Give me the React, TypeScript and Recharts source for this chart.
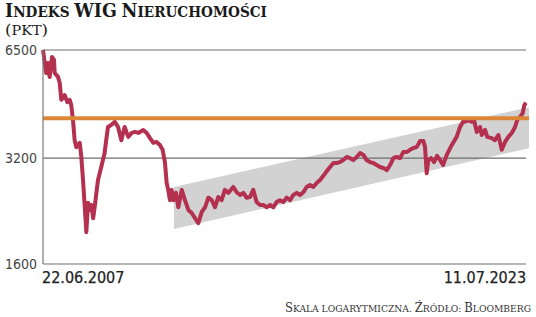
import React from 'react';
import { ComposedChart, Line, Area, XAxis, YAxis, ReferenceLine } from 'recharts';

const dates = [
  '2007-06-22', '2007-07-30', '2007-08-21', '2007-09-11', '2007-10-09', '2007-11-03', '2007-11-11', '2007-12-21',
  '2008-01-11', '2008-01-30', '2008-03-11', '2008-04-12', '2008-05-11', '2008-05-30', '2008-06-20', '2008-07-10',
  '2008-07-30', '2008-09-10', '2008-09-29', '2008-10-20', '2008-11-10', '2008-11-29', '2008-12-20', '2009-01-10',
  '2009-01-29', '2009-02-20', '2009-03-10', '2009-04-19', '2009-05-29', '2009-07-09', '2009-07-28', '2009-08-19',
  '2009-09-28', '2009-11-09', '2009-12-19', '2010-01-28', '2010-03-09', '2010-04-22', '2010-06-02', '2010-07-12',
  '2010-08-21', '2010-10-21', '2010-12-02', '2011-01-11', '2011-02-20', '2011-04-01', '2011-05-11', '2011-06-13',
  '2011-07-11', '2011-08-01', '2011-08-20', '2011-09-10', '2011-10-01', '2011-10-20', '2011-11-22', '2011-12-20',
  '2012-01-31', '2012-03-10', '2012-04-20', '2012-05-31', '2012-07-10', '2012-08-19', '2012-09-30', '2012-11-09',
  '2012-12-19', '2013-01-30', '2013-03-09', '2013-04-18', '2013-05-29', '2013-07-08', '2013-08-18', '2013-10-18',
  '2013-11-28', '2014-01-08', '2014-02-17', '2014-03-28', '2014-05-08', '2014-06-17', '2014-07-28', '2014-09-07',
  '2014-10-17', '2014-11-28', '2015-01-07', '2015-02-16', '2015-03-27', '2015-05-07', '2015-06-16', '2015-07-27',
  '2015-09-06', '2015-10-16', '2015-11-27', '2016-01-06', '2016-02-15', '2016-03-26', '2016-05-06', '2016-06-15',
  '2016-07-26', '2016-09-05', '2016-10-15', '2016-11-25', '2017-01-05', '2017-02-14', '2017-03-25', '2017-05-04',
  '2017-06-14', '2017-07-25', '2017-09-04', '2017-10-14', '2017-11-24', '2018-01-04', '2018-02-13', '2018-03-24',
  '2018-05-03', '2018-06-13', '2018-07-24', '2018-09-03', '2018-10-13', '2018-11-24', '2019-01-03', '2019-02-12',
  '2019-03-23', '2019-05-02', '2019-06-12', '2019-07-23', '2019-09-02', '2019-10-12', '2019-11-22', '2020-01-02',
  '2020-02-11', '2020-03-02', '2020-03-22', '2020-04-11', '2020-05-14', '2020-06-20', '2020-07-26', '2020-09-01',
  '2020-10-07', '2020-11-21', '2021-01-21', '2021-03-21', '2021-05-01', '2021-06-06', '2021-06-30', '2021-08-09',
  '2021-09-20', '2021-10-18', '2021-11-20', '2021-12-30', '2022-01-20', '2022-03-01', '2022-03-27', '2022-05-20',
  '2022-06-29', '2022-08-09', '2022-09-19', '2022-10-29', '2022-12-09', '2023-01-19', '2023-02-28', '2023-03-26',
  '2023-04-28', '2023-06-01', '2023-06-20', '2023-07-11',
];

const values = [
  6500, 5590, 5970, 5450, 6210, 6090, 5590, 5450,
  5240, 4690, 4840, 4620, 4690, 4530, 4110, 3600,
  3440, 3540, 3230, 2770, 2320, 1970, 2390, 2280,
  2355, 2160, 2320, 2770, 3020, 3310, 3600, 3925,
  3980, 4060, 3925, 3600, 3925, 3680, 3775, 3800,
  3775, 3850, 3775, 3650, 3540, 3560, 3490, 3380,
  3120, 2720, 2600, 2430, 2600, 2430, 2550, 2320,
  2600, 2430, 2280, 2235, 2160, 2090, 2250, 2320,
  2470, 2430, 2320, 2480, 2430, 2600, 2550, 2650,
  2560, 2515, 2550, 2470, 2480, 2600, 2400, 2355,
  2355, 2320, 2355, 2320, 2400, 2430, 2400, 2470,
  2430, 2515, 2550, 2515, 2560, 2650, 2685, 2650,
  2720, 2775, 2850, 2940, 3020, 3100, 3100, 3120,
  3160, 3225, 3200, 3160, 3225, 3310, 3270, 3160,
  3120, 3100, 3060, 3020, 3000, 2960, 3060, 3200,
  3225, 3200, 3330, 3330, 3380, 3420, 3440, 3580,
  3580, 3440, 2900, 3160, 3200, 3120, 3250, 3160,
  3060, 3270, 3490, 3680, 3925, 4060, 4060, 4110,
  4060, 4110, 3800, 3925, 3725, 3850, 3680, 3650,
  3600, 3725, 3380, 3560, 3680, 3775, 3925, 4110,
  4190, 4300, 4530, 4600,
];

const bandDates = ['2011-10-28', '2023-08-16'];
const bandLow = [2013, 3416];
const bandHigh = [2650, 4467];

const yTicks = [1600, 3200, 6500];
const gridValues = [1600, 3200, 6500];
const xTickDates = ['2007-06-22', '2023-07-11'];
const xTickLabels = ['22.06.2007', '11.07.2023'];
const resistanceLevel = 4160;

const ts = (d: string) => Date.parse(d + 'T00:00:00Z');

const lineData = dates.map((d, i) => ({ t: ts(d), v: values[i] }));
const bandData = bandDates.map((d, i) => ({ t: ts(d), band: [bandLow[i], bandHigh[i]] }));
const xTicks = xTickDates.map(ts);
const xStart = xTicks[0];
const xEnd = xTicks[xTicks.length - 1];
const xDomainEnd = ts(bandDates[1]);

const AXIS_FONT = "'Liberation Sans Narrow', 'DejaVu Sans Condensed', sans-serif";
const SERIF = "'DejaVu Serif', 'Liberation Serif', serif";
const SERIF_COND = "'DejaVu Serif Condensed', 'DejaVu Serif', serif";

const XTick = (props: any) => {
  const { x, y, index } = props;
  const first = index === 0;
  return (
    <text
      x={first ? x - 1 : x}
      y={y + 19}
      textAnchor={first ? 'start' : 'end'}
      fontSize={16}
      fontFamily={AXIS_FONT}
      fill="#222"
      stroke="#222"
      strokeWidth={0.25}
    >
      {xTickLabels[index]}
    </text>
  );
};

// Render a string in small caps: capital letters large, others uppercased and smaller.
const smallCaps = (s: string, big: number, small: number) => {
  const parts: { text: string; big: boolean }[] = [];
  for (const ch of s) {
    const isBig = ch !== ch.toLowerCase() || /[()]/.test(ch);
    const last = parts[parts.length - 1];
    if (last && last.big === isBig) last.text += ch;
    else parts.push({ text: ch, big: isBig });
  }
  return parts.map((p, i) => (
    <tspan key={i} fontSize={p.big ? big : small}>
      {p.big ? p.text : p.text.toUpperCase()}
    </tspan>
  ));
};

const titleText = 'Indeks WIG Nieruchomości';
const unitText = '(pkt)';
const sourceText = 'Skala logarytmiczna. Źródło: Bloomberg';

export default function App() {
  return (
    <div style={{ position: 'absolute', left: 0, top: 0, width: 536, height: 317, background: '#fff' }}>
      <div style={{ position: 'absolute', left: 0, top: 0 }}>
        <ComposedChart width={536} height={317} margin={{ top: 50, right: 7, bottom: 23, left: 0 }}>
          <XAxis
            type="number"
            dataKey="t"
            domain={[xStart, xDomainEnd]}
            ticks={xTicks}
            interval={0}
            tick={<XTick />}
            tickLine={false}
            axisLine={false}
            tickSize={0}
            tickMargin={0}
            height={30}
          />
          <YAxis
            type="number"
            scale="log"
            domain={[1600, 6500]}
            ticks={yTicks}
            interval={0}
            width={43}
            tickLine={false}
            tickSize={4}
            tickMargin={2}
            axisLine={{ stroke: '#7a7a7a', strokeWidth: 1.2 }}
            tick={{ fontSize: 14, fill: '#444', fontFamily: AXIS_FONT }}
          />
          <Area
            data={bandData}
            dataKey="band"
            type="linear"
            stroke="none"
            fill="#d2d2d3"
            fillOpacity={1}
            isAnimationActive={false}
          />
          {gridValues.map((g) => (
            <ReferenceLine
              key={g}
              segment={[{ x: xStart, y: g }, { x: xEnd, y: g }]}
              stroke="#6e6e6e"
              strokeWidth={1.2}
              ifOverflow="visible"
            />
          ))}
          <Line
            data={lineData}
            dataKey="v"
            type="linear"
            stroke="#b3304f"
            strokeWidth={4}
            strokeLinejoin="round"
            dot={false}
            isAnimationActive={false}
          />
          <ReferenceLine y={resistanceLevel} stroke="#dc8637" strokeWidth={4} ifOverflow="visible" />
        </ComposedChart>
      </div>
      <svg
        width={536}
        height={317}
        style={{ position: 'absolute', left: 0, top: 0, pointerEvents: 'none' }}
      >
        <text
          x={5}
          y={16.5}
          fontFamily={SERIF_COND}
          fontWeight="bold"
          fill="#1a1a1a"
          textLength={262}
          lengthAdjust="spacingAndGlyphs"
        >
          {smallCaps(titleText, 18.5, 14.5)}
        </text>
        <text
          x={5}
          y={35}
          fontFamily={SERIF}
          fill="#1a1a1a"
          textLength={43}
          lengthAdjust="spacingAndGlyphs"
        >
          {smallCaps(unitText, 15.5, 13.5)}
        </text>
        <text
          x={531}
          y={311.5}
          textAnchor="end"
          fontFamily={SERIF_COND}
          fill="#333"
          textLength={246}
          lengthAdjust="spacingAndGlyphs"
        >
          {smallCaps(sourceText, 12, 9.5)}
        </text>
      </svg>
    </div>
  );
}
